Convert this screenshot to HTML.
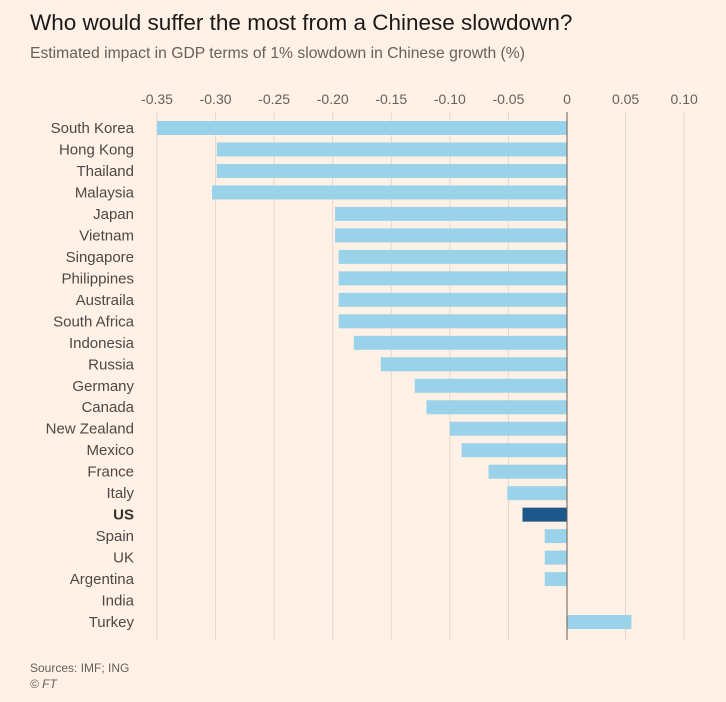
<!DOCTYPE html>
<html><head><meta charset="utf-8">
<style>
body{margin:0;background:#fff1e5;font-family:"Liberation Sans",sans-serif;}
#wrap{position:relative;width:726px;height:702px;background:#fff1e5;overflow:hidden}
.t{position:absolute;left:30px;top:10px;font-size:22.5px;color:#1a1a1a}
.s{position:absolute;left:30px;top:45px;font-size:15.7px;color:#66605c}
.src{position:absolute;left:30px;top:660px;font-size:12px;color:#66605c;line-height:16px}
</style></head>
<body>
<div id="wrap">
<div class="t">Who would suffer the most from a Chinese slowdown?</div>
<div class="s">Estimated impact in GDP terms of 1% slowdown in Chinese growth (%)</div>
<svg id="svg" width="726" height="702" style="position:absolute;left:0;top:0"></svg>
<div class="src">Sources: IMF; ING<br><i>© FT</i></div>
</div>
<script>
const categories=["South Korea","Hong Kong","Thailand","Malaysia","Japan","Vietnam","Singapore","Philippines","Austraila","South Africa","Indonesia","Russia","Germany","Canada","New Zealand","Mexico","France","Italy","US","Spain","UK","Argentina","India","Turkey"];
const values=[-0.35,-0.299,-0.299,-0.303,-0.198,-0.198,-0.195,-0.195,-0.195,-0.195,-0.182,-0.159,-0.13,-0.12,-0.10,-0.09,-0.067,-0.051,-0.038,-0.019,-0.019,-0.019,0,0.055];
const highlight=["US"];
const ticks=[-0.35,-0.30,-0.25,-0.20,-0.15,-0.10,-0.05,0,0.05,0.10];
const tickLabels=["-0.35","-0.30","-0.25","-0.20","-0.15","-0.10","-0.05","0","0.05","0.10"];
const svg=document.getElementById('svg');const NS="http://www.w3.org/2000/svg";
const x=v=>567+v*(410/0.35);
const y=i=>128+i*21.48;
function mk(t,a){const e=document.createElementNS(NS,t);for(const k in a)e.setAttribute(k,a[k]);svg.appendChild(e);return e;}
ticks.forEach((t,i)=>{
 const l=mk('line',{x1:x(t),x2:x(t),y1:112,y2:640,stroke:t===0?'#66605c':'#e3d8cf','stroke-width':1});
 
 
 const tx=mk('text',{x:x(t),y:104,'text-anchor':'middle','font-size':14,fill:'#66605c'});
 tx.textContent=tickLabels[i];
 
 
});
categories.forEach((c,i)=>{
 const v=values[i];const hi=highlight.includes(c);
 const r=mk('rect',{x:Math.min(x(v),x(0)),y:y(i)-7,width:Math.abs(x(v)-x(0)),height:14,fill:hi?'#1d5689':'#9ad3e9'});
 
 
 const tx=mk('text',{x:134,y:y(i)+5,'text-anchor':'end','font-size':15,fill:hi?'#33302e':'#4d4845','font-weight':hi?'bold':'normal'});
 tx.textContent=c;
 
 
});
const z=mk('line',{x1:x(0),x2:x(0),y1:112,y2:640,stroke:'#66605c','stroke-width':1});


</script>
</body></html>
